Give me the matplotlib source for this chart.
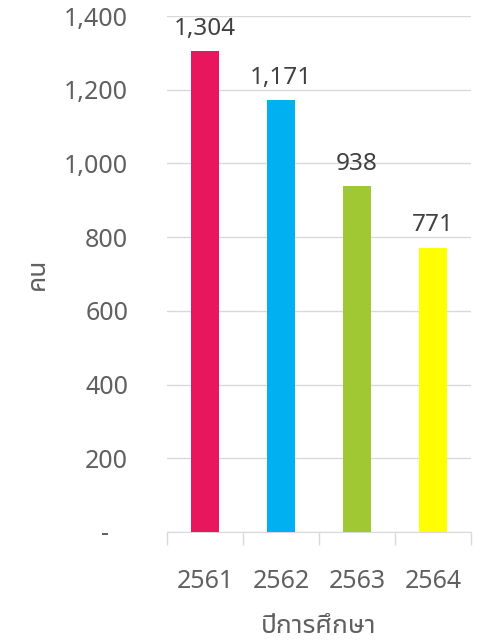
import matplotlib
matplotlib.use('Agg')
import matplotlib.pyplot as plt
import numpy as np
from matplotlib.ticker import FuncFormatter

plt.rcParams['font.family'] = ['Noto Sans Thai UI', 'Noto Sans', 'DejaVu Sans']

# data
years = ['2561', '2562', '2563', '2564']
students = [1304, 1171, 938, 771]
colors = ['#e8175d', '#00b0f0', '#9fc832', '#ffff00']

fig = plt.figure(figsize=(4.8, 6.44), dpi=100)
ax = fig.add_axes([0.348, 0.174, 0.633, 0.801])

x = np.arange(len(years))
bars = ax.bar(x, students, width=0.36, color=colors, zorder=3)

for b, v in zip(bars, students):
    ax.annotate(f'{v:,}', (b.get_x() + b.get_width() / 2, v),
                xytext=(0, 12), textcoords='offset points',
                ha='center', va='baseline', fontsize=17.5, color='#404040')

ax.set_xlim(-0.5, 3.5)
ax.set_ylim(0, 1400)
ax.set_yticks(range(0, 1401, 200))
# accounting style: zero shown as a dash
ax.yaxis.set_major_formatter(FuncFormatter(lambda v, p: '-   ' if v == 0 else f'{int(v):,}'))
ax.grid(axis='y', color='#d9d9d9', linewidth=1, zorder=0)

ax.set_xticks(x)
ax.set_xticklabels(years)
ax.set_xticks(np.arange(-0.5, 4, 1), minor=True)
ax.tick_params(axis='x', which='major', length=0, pad=27, labelsize=18, labelcolor='#606060')
ax.tick_params(axis='x', which='minor', length=9, color='#d9d9d9', width=1)
ax.tick_params(axis='y', length=0, pad=28, labelsize=18, labelcolor='#606060')

for s in ['top', 'right', 'left']:
    ax.spines[s].set_visible(False)
ax.spines['bottom'].set_color('#d9d9d9')

ax.set_xlabel('ปีการศึกษา', fontsize=19, color='#606060')
ax.xaxis.set_label_coords(0.5, -0.155)
ax.set_ylabel('คน', fontsize=19, color='#606060')
ax.yaxis.set_label_coords(-0.381, 0.5)

fig.savefig('out.png')
